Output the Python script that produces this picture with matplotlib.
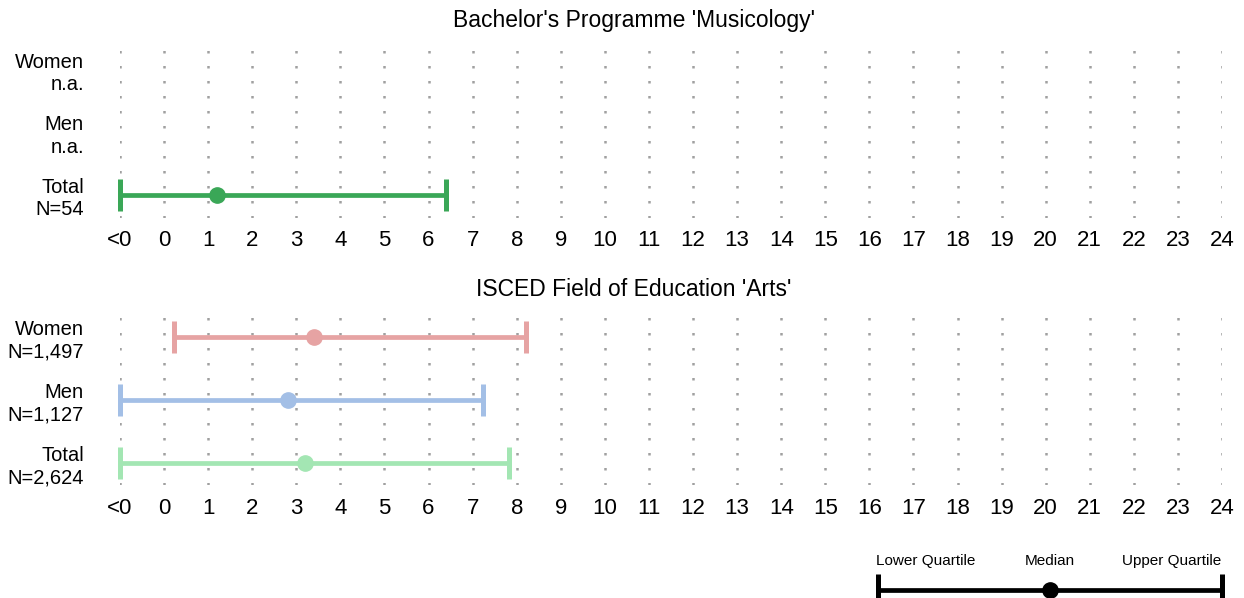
import numpy as np
import matplotlib
matplotlib.use('Agg')
import matplotlib.pyplot as plt

plt.rcParams['font.family'] = ['Liberation Sans', 'DejaVu Sans']

TICK_POS = list(range(-1, 25))
TICK_LABELS = ['<0'] + [str(i) for i in range(25)]

# top panel
TOP_TITLE = "Bachelor's Programme 'Musicology'"
TOP_ROWS = ['Total\nN=54', 'Men\nn.a.', 'Women\nn.a.']
TOP_LOWER = [-1, None, None]
TOP_MEDIAN = [1.2, None, None]
TOP_UPPER = [6.4, None, None]
TOP_COLORS = ['#3aa757', None, None]

# bottom panel
BOT_TITLE = "ISCED Field of Education 'Arts'"
BOT_ROWS = ['Total\nN=2,624', 'Men\nN=1,127', 'Women\nN=1,497']
BOT_LOWER = [-1, -1, 0.23]
BOT_MEDIAN = [3.2, 2.8, 3.4]
BOT_UPPER = [7.83, 7.24, 8.2]
BOT_COLORS = ['#a3e6b3', '#a3bfe6', '#e6a3a3']

W, H = 1244, 598


def px_axes(fig, left, top, right, bottom):
    return fig.add_axes([left / W, 1 - bottom / H, (right - left) / W, (bottom - top) / H])


def draw_panel(ax, title, title_y, rows, lower, median, upper, colors, ylim):
    for x in TICK_POS:
        ax.axvline(x, color='#a0a0a0', lw=1.8, ls=(0, (1, 5)), zorder=0)
    for i in range(len(rows)):
        if median[i] is None:
            continue
        ax.plot([lower[i], upper[i]], [i, i], color=colors[i], lw=3.4,
                marker='|', ms=23, mew=3.6, solid_capstyle='butt', clip_on=False)
        ax.plot(median[i], i, 'o', color=colors[i], ms=11, clip_on=False)
    ax.set_xlim(-1, 24)
    ax.set_ylim(*ylim)
    ax.set_xticks(TICK_POS)
    ax.set_xticklabels(TICK_LABELS, fontsize=16)
    ax.set_yticks(range(len(rows)))
    ax.set_yticklabels(rows, fontsize=14.5, ha='right', linespacing=1.22)
    ax.tick_params(axis='both', length=0)
    ax.tick_params(axis='x', pad=9)
    ax.tick_params(axis='y', pad=26)
    for s in ax.spines.values():
        s.set_visible(False)
    fig.text(634 / W, 1 - title_y / H, title, fontsize=16.5, ha='center', va='center')


fig = plt.figure(figsize=(W / 100, H / 100), dpi=100)

ax1 = px_axes(fig, 120, 45, 1222, 218)
draw_panel(ax1, TOP_TITLE, 21, TOP_ROWS, TOP_LOWER, TOP_MEDIAN, TOP_UPPER, TOP_COLORS, (-0.37, 2.4))

ax2 = px_axes(fig, 120, 310, 1222, 485)
draw_panel(ax2, BOT_TITLE, 290, BOT_ROWS, BOT_LOWER, BOT_MEDIAN, BOT_UPPER, BOT_COLORS, (-0.35, 2.43))

# legend
axl = px_axes(fig, 878, 540, 1222, 598)
axl.set_xlim(0, 1)
axl.set_ylim(0, 1)
axl.axis('off')
axl.plot([0, 1], [0.14, 0.14], color='black', lw=3.4, marker='|', ms=23, mew=3.6, clip_on=False)
axl.plot(0.5, 0.14, 'o', color='black', ms=11, clip_on=False)
axl.text(0.14, 0.64, 'Lower Quartile', ha='center', va='center', fontsize=11)
axl.text(0.5, 0.64, 'Median', ha='center', va='center', fontsize=11)
axl.text(0.855, 0.64, 'Upper Quartile', ha='center', va='center', fontsize=11)

fig.savefig('out.png', dpi=100)
